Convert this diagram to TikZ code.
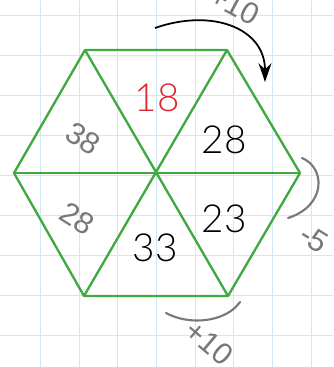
\documentclass[tikz,border=0pt]{standalone}
\usepackage{fontspec}
\setmainfont{Liberation Sans}
\newfontfamily\numfont{Lato Light}
\usetikzlibrary{arrows.meta,positioning}
\definecolor{hexgreen}{RGB}{64,170,64}
\definecolor{numred}{RGB}{222,38,48}
\definecolor{penGrey}{RGB}{120,120,120}
\definecolor{gridblue}{RGB}{205,232,246}

\begin{document}
\begin{tikzpicture}[x=0.03cm,y=-0.03cm,
  num/.style={font=\numfont\fontsize{33}{33}\selectfont,text=black},
  pen/.style={font=\fontsize{26}{26}\selectfont,text=penGrey},
  stroke/.style={line width=1.8pt,penGrey,line cap=round}]
\useasboundingbox (0,0) rectangle (333,367);
\clip (0,0) rectangle (333,367);
\fill[white] (0,0) rectangle (333,367);
% squared paper
\foreach \gx in {1,2,...,8} \draw[gridblue,line width=.6pt] (1.5+38.7*\gx,0) -- (1.5+38.7*\gx,367);
\foreach \gy in {0,1,...,9} \draw[gridblue,line width=.6pt] (0,15+40*\gy) -- (333,15+40*\gy);
% hexagon
\coordinate (h0) at (155,173);
\coordinate (h1) at (85,50);
\coordinate (h2) at (227,50);
\coordinate (h3) at (300,173);
\coordinate (h4) at (228,296);
\coordinate (h5) at (84,296);
\coordinate (h6) at (14,173);
\draw[hexgreen,line width=2pt,line join=round] (h1)--(h2)--(h3)--(h4)--(h5)--(h6)--cycle;
\draw[hexgreen,line width=2pt](h1)--(h4);
\draw[hexgreen,line width=2pt](h2)--(h5);
\draw[hexgreen,line width=2pt](h3)--(h6);
% numbers
\node[num,text=numred] (n18) at (157,98) {18};
\node[num] (n28) at (224,140) {28};
\node[num] (n23) at (224,219) {23};
\node[num] (n33) at (155,248) {33};
% pencil notes
\node[pen,rotate=-32] (p38) at (83,139) {38};
\node[pen,rotate=-32] (p28) at (77,219) {28};
\node[pen,rotate=-32] (pm5) at (314,239) {-5};
\node[pen,rotate=-40] (pp10) at (209,343) {+10};
\node[pen,rotate=-28] (pt10) at (235,5) {+10};
\coordinate (a1) at (302,158);
\coordinate (a2) at (288,218);
\draw[stroke] (a1) .. controls (326,168) and (326,206) .. (a2);
\coordinate (b1) at (166,313);
\coordinate (b2) at (240,302);
\draw[stroke] (b1) .. controls (190,326) and (226,322) .. (b2);
% turn arrow
\coordinate (r1) at (155,28);
\coordinate (r2) at (265,82);
\draw[line width=1.5pt,-{Stealth[length=16pt,width=11pt]}] (r1) .. controls (212,8) and (265,28) .. (r2);
\end{tikzpicture}
\end{document}
